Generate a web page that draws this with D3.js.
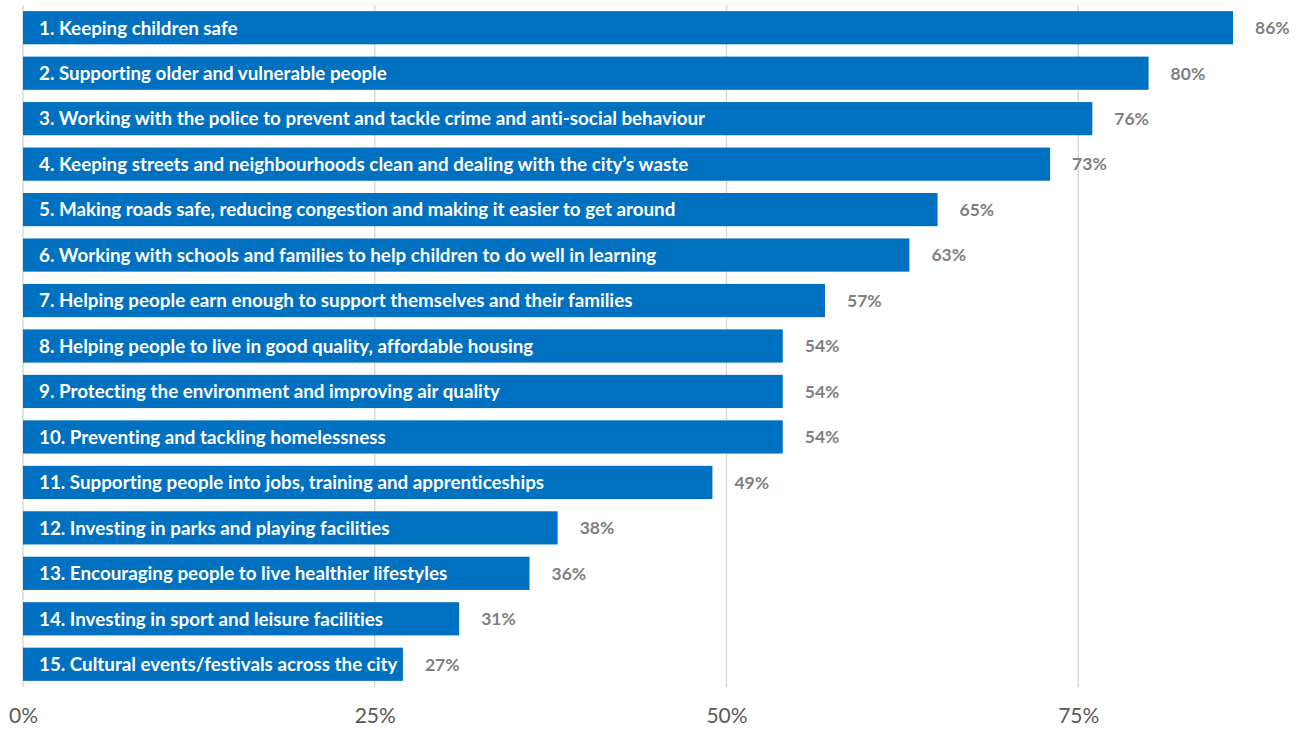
<!DOCTYPE html>
<html>
<head>
<meta charset="utf-8">
<script src="https://cdn.jsdelivr.net/npm/d3@7"></script>
<style>
  html, body { margin: 0; padding: 0; background: #ffffff; }
  svg { display: block; }
  text { font-variant-ligatures: none; }
</style>
</head>
<body>
<svg id="chart" width="1311" height="729"></svg>
<script>
// Council priorities: share of respondents rating each as important
const categories = [
  "1. Keeping children safe",
  "2. Supporting older and vulnerable people",
  "3. Working with the police to prevent and tackle crime and anti-social behaviour",
  "4. Keeping streets and neighbourhoods clean and dealing with the city\u2019s waste",
  "5. Making roads safe, reducing congestion and making it easier to get around",
  "6. Working with schools and families to help children to do well in learning",
  "7. Helping people earn enough to support themselves and their families",
  "8. Helping people to live in good quality, affordable housing",
  "9. Protecting the environment and improving air quality",
  "10. Preventing and tackling homelessness",
  "11. Supporting people into jobs, training and apprenticeships",
  "12. Investing in parks and playing facilities",
  "13. Encouraging people to live healthier lifestyles",
  "14. Investing in sport and leisure facilities",
  "15. Cultural events/festivals across the city"
];
const values = [0.86, 0.80, 0.76, 0.73, 0.65, 0.63, 0.57, 0.54, 0.54, 0.54, 0.49, 0.38, 0.36, 0.31, 0.27];
const tickValues = [0, 0.25, 0.5, 0.75];

const svg = d3.select("#chart");
const font = "Lato, 'Open Sans', sans-serif";

const x = d3.scaleLinear().domain([0, 1]).range([23, 1430]);
const y = d3.scaleBand().domain(categories).range([5, 687]).paddingInner(0.27).paddingOuter(0.135);

// vertical gridlines
svg.append("g")
  .selectAll("line")
  .data(tickValues)
  .join("line")
  .attr("x1", d => x(d)).attr("x2", d => x(d))
  .attr("y1", 5).attr("y2", 687)
  .attr("stroke", "#d9d9d9")
  .attr("stroke-width", 1.5);

// x axis tick labels
const xAxis = d3.axisBottom(x).tickValues(tickValues).tickFormat(d3.format(".0%")).tickSize(0).tickPadding(0);
const gx = svg.append("g").attr("transform", "translate(0,708)").call(xAxis);
gx.select(".domain").remove();
gx.selectAll("text")
  .attr("fill", "#595959")
  .style("font-family", font)
  .style("font-size", "21px");

const rows = categories.map((c, i) => ({ c, v: values[i] }));

// bars
svg.append("g")
  .selectAll("rect")
  .data(rows)
  .join("rect")
  .attr("x", x(0))
  .attr("y", d => y(d.c))
  .attr("width", d => x(d.v) - x(0))
  .attr("height", y.bandwidth())
  .attr("fill", "#0070C0");

// category names inside bars
svg.append("g")
  .selectAll("text")
  .data(rows)
  .join("text")
  .attr("x", x(0) + 16)
  .attr("y", d => y(d.c) + y.bandwidth() / 2)
  .attr("dy", "0.36em")
  .attr("fill", "#ffffff")
  .style("font-family", font)
  .style("font-weight", "bold")
  .style("font-size", "18.8px")
  .text(d => d.c);

// value labels after bars
svg.append("g")
  .selectAll("text")
  .data(rows)
  .join("text")
  .attr("x", d => x(d.v) + 22)
  .attr("y", d => y(d.c) + y.bandwidth() / 2)
  .attr("dy", "0.36em")
  .attr("fill", "#7f7f7f")
  .style("font-family", font)
  .style("font-weight", "bold")
  .style("font-size", "17.5px")
  .text(d => d3.format(".0%")(d.v));
</script>
</body>
</html>
